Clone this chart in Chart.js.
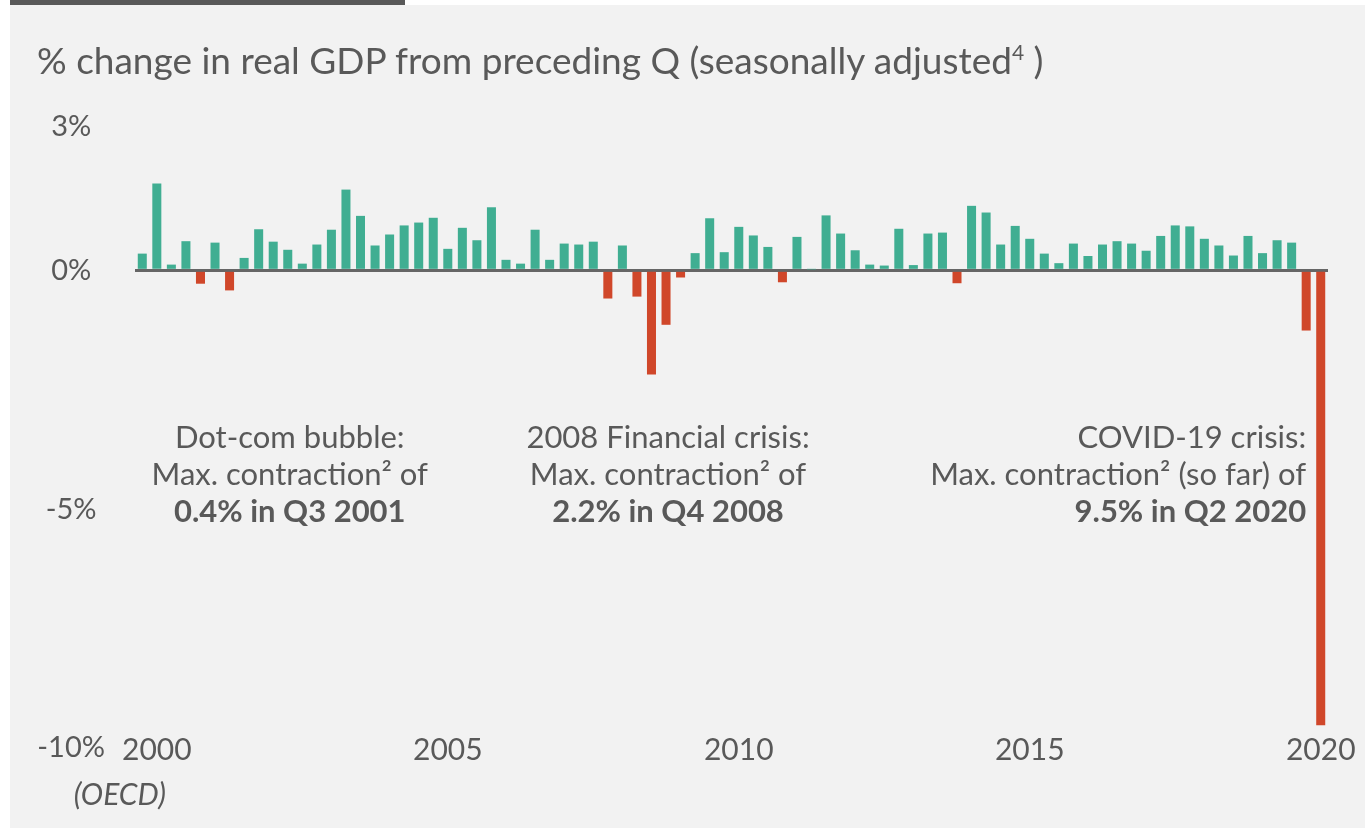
<!DOCTYPE html>
<html>
<head>
<meta charset="utf-8">
<script src="https://cdn.jsdelivr.net/npm/chart.js@4"></script>
<style>
  body { margin: 0; background: #ffffff; font-family: Lato, "Open Sans", sans-serif; }
  #topbar { position: absolute; left: 10px; top: 0; width: 395px; height: 8px; background: #595959; }
  #panel { position: absolute; left: 10px; top: 5px; width: 1355px; height: 823px; background: #f2f2f2; }
  #title { position: absolute; left: 27px; top: 32px; font-size: 37px; color: #595959; white-space: nowrap; }
  #title sup { font-size: 21px; vertical-align: 14px; line-height: 0; }
  #wrap { position: absolute; left: 0; top: 0; width: 1355px; height: 823px; }
</style>
</head>
<body>
<div id="topbar"></div>
<div id="panel">
  <div id="wrap"><canvas id="gdpChart"></canvas></div>
  <div id="title">% change in real GDP from preceding Q (seasonally adjusted<sup>4</sup> )</div>
</div>
<script>
// quarters 2000 Q1 .. 2020 Q2
const years = ["2000", "2001", "2002", "2003", "2004", "2005", "2006", "2007", "2008", "2009",
  "2010", "2011", "2012", "2013", "2014", "2015", "2016", "2017", "2018", "2019", "2020"];
const yearTicks = ["2000", "2005", "2010", "2015", "2020"];
const yTicks = [3, 0, -5, -10];

const gdpChange = [
  0.35, 1.82, 0.12, 0.61, -0.28, 0.58, -0.42, 0.26,
  0.86, 0.60, 0.43, 0.14, 0.54, 0.85, 1.69, 1.14,
  0.52, 0.75, 0.94, 1.00, 1.10, 0.45, 0.89, 0.63,
  1.32, 0.22, 0.14, 0.85, 0.22, 0.56, 0.54, 0.60,
  -0.59, 0.52, -0.55, -2.18, -1.14, -0.15, 0.36, 1.09,
  0.38, 0.91, 0.73, 0.49, -0.25, 0.70, 0.02, 1.15,
  0.77, 0.42, 0.12, 0.10, 0.87, 0.11, 0.77, 0.79,
  -0.27, 1.35, 1.21, 0.54, 0.93, 0.66, 0.35, 0.15,
  0.56, 0.30, 0.54, 0.61, 0.56, 0.41, 0.72, 0.94,
  0.92, 0.66, 0.52, 0.31, 0.72, 0.36, 0.63, 0.58,
  -1.26, -9.52
];

const quarters = [];
years.forEach(function (y) {
  ["Q1", "Q2", "Q3", "Q4"].forEach(function (q) {
    if (quarters.length < gdpChange.length) quarters.push(y + " " + q);
  });
});

const annotations = [
  { at: "2002 Q3", align: "center", lines: ["Dot-com bubble:", "Max. contraction² of", "0.4% in Q3 2001"] },
  { at: "2009 Q1", align: "center", lines: ["2008 Financial crisis:", "Max. contraction² of", "2.2% in Q4 2008"] },
  { at: "2020 Q1", align: "right", lines: ["COVID-19 crisis:", "Max. contraction² (so far) of", "9.5% in Q2 2020"] }
];

const textColor = "#595959";
const green = "#40ae92";
const red = "#d0472a";

const annotationPlugin = {
  id: "crisisNotes",
  afterDraw(chart) {
    const ctx = chart.ctx;
    const x = chart.scales.x;
    const y = chart.scales.y;
    ctx.save();
    ctx.fillStyle = textColor;
    ctx.textBaseline = "middle";
    annotations.forEach(function (a) {
      const px = x.getPixelForValue(quarters.indexOf(a.at)) + (a.align === "center" ? 2 : 0);
      const py = y.getPixelForValue(-3.5);
      ctx.textAlign = a.align;
      a.lines.forEach(function (line, i) {
        ctx.font = (i === 2 ? "bold " : "") + "31px Lato, sans-serif";
        ctx.fillText(line, px, py + i * 37);
      });
    });
    // source note under the first year label
    ctx.font = "italic 30px Lato, sans-serif";
    ctx.textAlign = "center";
    ctx.fillText("(OECD)", x.getPixelForValue(1) - 37, chart.chartArea.bottom + 66);
    ctx.restore();
  }
};

new Chart(document.getElementById("gdpChart"), {
  type: "bar",
  data: {
    labels: quarters,
    datasets: [{
      data: gdpChange,
      backgroundColor: function (c) { return c.raw < 0 ? red : green; },
      barPercentage: 0.62,
      categoryPercentage: 1.0
    }]
  },
  options: {
    responsive: true,
    maintainAspectRatio: false,
    animation: false,
    layout: { padding: { top: 122, right: 37, left: 0, bottom: 0 } },
    plugins: {
      legend: { display: false },
      tooltip: { enabled: false }
    },
    scales: {
      x: {
        grid: { display: false, drawTicks: false },
        border: { display: false },
        afterFit: function (s) { s.height = 99; },
        ticks: {
          autoSkip: false,
          maxRotation: 0,
          padding: 3,
          color: textColor,
          font: { family: "Lato", size: 30 },
          callback: function (v) {
            const q = quarters[v];
            const yr = q.slice(0, 4);
            return q.endsWith("Q2") && yearTicks.includes(yr) ? yr : "";
          }
        }
      },
      y: {
        min: -9.6,
        max: 3,
        afterFit: function (s) { s.width = 125; },
        afterBuildTicks: function (s) { s.ticks = yTicks.map(function (v) { return { value: v }; }); },
        border: { display: false },
        grid: {
          drawTicks: false,
          lineWidth: 3,
          color: function (c) { return c.tick && c.tick.value === 0 ? "#666666" : "rgba(0,0,0,0)"; }
        },
        ticks: {
          crossAlign: "center",
          padding: 30,
          color: textColor,
          font: { family: "Lato", size: 29 },
          callback: function (v) { return v + "%"; }
        }
      }
    }
  },
  plugins: [annotationPlugin]
});
</script>
</body>
</html>
